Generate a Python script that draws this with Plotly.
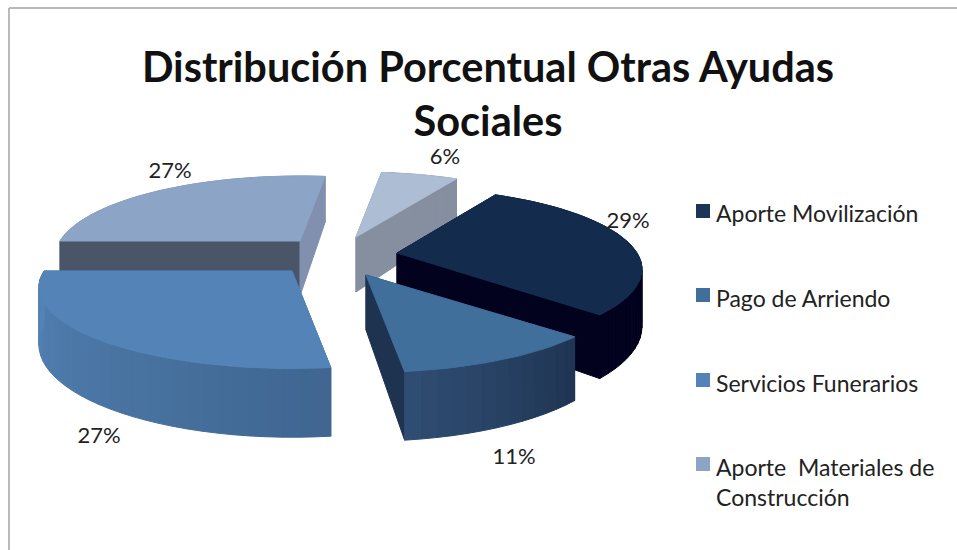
import math
import plotly.graph_objects as go

# ---- data ----
categories = ["Aporte Movilización", "Pago de Arriendo", "Servicios Funerarios",
              "Aporte  Materiales de<br>Construcción", ""]
values = [29, 11, 27, 27, 6]
title_text = "Distribución Porcentual Otras Ayudas<br>Sociales"

# ---- styling / layout ----
W, H = 957, 550
START = 28.8
RY, K, DEPTH = 78, 0.20, 55
rx = [240, 247, 248, 240, 245]
apex = [(397, 253), (366, 275), (292, 271), (300, 241), (356, 237)]
top_col = ["#132C4E", "#416F9C", "#5484B7", "#8CA4C6", "#ADBDD4"]
legend_col = ["#1A3558", "#416F9C", "#5484B7", "#8CA4C6"]
wall_start = ["#02021F", "#1E3350", "#3F6590", "#4A5568", "#868F9F"]
wall_end = ["#02021F", "#1E3350", "#3F6590", "#8090AE", "#868F9F"]
arc_far = [(2, 2, 31), (47, 77, 114), (84, 132, 183), (128, 144, 174), (134, 143, 159)]
arc_near = [(2, 2, 31), (30, 51, 80), (63, 101, 144), (128, 144, 174), (134, 143, 159)]
label_pos = [(628, 222), (514, 458), (99, 437), (170, 172), (445, 158)]
legend_marker_x = 703
legend_marker_y = [211, 295, 380, 464]
legend_text_x = 714
legend_text_y = [213, 298, 383, 482]
draw_order = [3, 4, 0, 2, 1]
walls_over_arc = {3}
FONT = "Lato"
INK = "#222222"


def project(c, r, deg):
    t = math.radians(deg)
    X, Y = math.sin(t), math.cos(t)
    s = 1 / (1 + K * Y)
    return c[0] + r * X * s, c[1] - RY * Y * s, s


def poly(xs, ys, color):
    return go.Scatter(x=xs + xs[:1], y=ys + ys[:1], mode="lines", fill="toself",
                      fillcolor=color, line=dict(color=color, width=1),
                      hoverinfo="skip", showlegend=False)


fig = go.Figure()

# sweep limits from the values
bounds = []
acc = START
for v in values:
    bounds.append((acc, acc + v * 3.6))
    acc += v * 3.6


def radial_walls(i):
    a0, a1 = bounds[i]
    c, r = apex[i], rx[i]
    for ang, col in ((a0, wall_start[i]), (a1, wall_end[i])):
        x, y, s = project(c, r, ang)
        fig.add_trace(poly([c[0], x, x, c[0]],
                           [c[1], y, y + DEPTH * s, c[1] + DEPTH], col))


def outer_wall(i):
    a0, a1 = bounds[i]
    c, r = apex[i], rx[i]
    n = max(3, int((a1 - a0) / 3))
    for j in range(n):
        d0 = a0 + (a1 - a0) * j / n
        d1 = a0 + (a1 - a0) * (j + 1) / n
        f = (d1 - a0) / (a1 - a0)
        rgb = tuple(round(arc_near[i][k] + (arc_far[i][k] - arc_near[i][k]) * f) for k in range(3))
        col = "rgb(%d,%d,%d)" % rgb
        x0, y0, s0 = project(c, r, d0)
        x1, y1, s1 = project(c, r, d1)
        fig.add_trace(poly([x0, x1, x1, x0],
                           [y0, y1, y1 + DEPTH * s1, y0 + DEPTH * s0], col))


for i in draw_order:
    a0, a1 = bounds[i]
    if i in walls_over_arc:
        outer_wall(i)
        radial_walls(i)
    else:
        radial_walls(i)
        outer_wall(i)
    m = max(8, int((a1 - a0) / 1.5))
    pts = [project(apex[i], rx[i], a0 + (a1 - a0) * j / m) for j in range(m + 1)]
    fig.add_trace(poly([apex[i][0]] + [p[0] for p in pts],
                       [apex[i][1]] + [p[1] for p in pts], top_col[i]))

# data labels
fig.add_trace(go.Scatter(x=[p[0] for p in label_pos], y=[p[1] for p in label_pos],
                         mode="text", text=[f"{v}%" for v in values],
                         textposition="middle center",
                         textfont=dict(family=FONT, size=22, color=INK),
                         hoverinfo="skip", showlegend=False))

# legend keys and names (the fifth slice has no entry in the reference)
fig.add_trace(go.Scatter(x=[legend_marker_x] * 4, y=legend_marker_y, mode="markers",
                         marker=dict(symbol="square", size=14, color=legend_col),
                         hoverinfo="skip", showlegend=False))
annotations = [
    dict(x=legend_text_x, y=ty, xref="x", yref="y", text=name, showarrow=False,
         xanchor="left", yanchor="middle", align="left",
         font=dict(family=FONT, size=23, color=INK))
    for name, ty in zip(categories[:4], legend_text_y)
]

fig.update_layout(
    width=W, height=H, autosize=False,
    margin=dict(l=0, r=0, t=0, b=0),
    paper_bgcolor="white", plot_bgcolor="white",
    showlegend=False,
    xaxis=dict(range=[0, W], visible=False, fixedrange=True),
    yaxis=dict(range=[H, 0], visible=False, fixedrange=True),
    title=dict(text=title_text, x=488 / W, xanchor="center", y=1 - 82 / H, yanchor="top",
               font=dict(family=FONT, size=41.5, color="#111111", weight="bold")),
    annotations=annotations,
    shapes=[
        dict(type="line", xref="x", yref="y", x0=9, x1=9, y0=8, y1=H,
             line=dict(color="#A3A3A3", width=1.5)),
        dict(type="line", xref="x", yref="y", x0=9, x1=W, y0=8, y1=8,
             line=dict(color="#A3A3A3", width=1.5)),
    ],
)
fig.write_html("out.html", config={"displayModeBar": False},
               post_script="document.body.style.margin='0';document.body.style.overflow='hidden';")
